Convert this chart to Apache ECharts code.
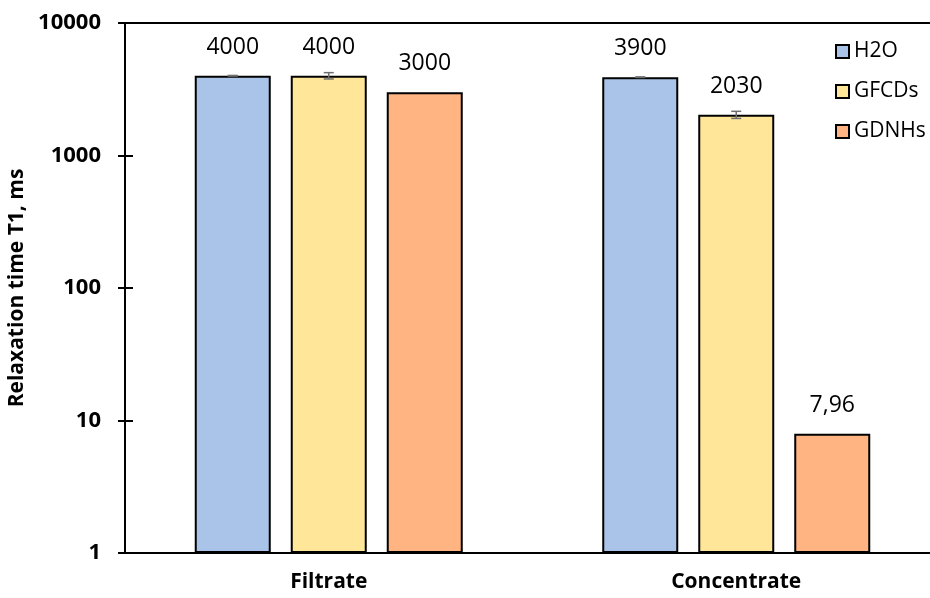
<!DOCTYPE html>
<html>
<head>
<meta charset="utf-8">
<script src="https://cdn.jsdelivr.net/npm/echarts@6/dist/echarts.min.js"></script>
<style>html,body{margin:0;padding:0;background:#fff}#c{width:930px;height:598px}</style>
</head>
<body>
<div id="c"></div>
<script>
const categories = ['Filtrate', 'Concentrate'];
const seriesNames = ['H2O', 'GFCDs', 'GDNHs'];
const h2o = [4000, 3900];
const gfcds = [4000, 2030];
const gdnhs = [3000, 7.96];
const h2oErr = [20, 20];
const gfcdsErr = [220, 125];
const gdnhsErr = [0, 0];
const yTicks = [1, 10, 100, 1000, 10000];

const colors = ['#A9C4E8', '#FFE699', '#FFB482'];
const values = [h2o, gfcds, gdnhs];
const errs = [h2oErr, gfcdsErr, gdnhsErr];
const BAR_W = 76, BAR_STEP = 96;
const FONT = 'Open Sans';

function fmt(v) { return String(v).replace('.', ','); }

const chart = echarts.init(document.getElementById('c'), null, {renderer: 'canvas'});

const series = [];
seriesNames.forEach((name, i) => {
  series.push({
    name: name,
    type: 'bar',
    data: values[i],
    barWidth: BAR_W,
    barGap: ((BAR_STEP - BAR_W) / BAR_W * 100).toFixed(2) + '%',
    itemStyle: {color: colors[i], borderColor: '#000', borderWidth: 2},
    label: {show: true, position: 'top', distance: 17, fontFamily: FONT, fontSize: 23, color: '#000',
      formatter: p => fmt(p.value)},
    z: 2
  });
});
seriesNames.forEach((name, i) => {
  series.push({
    type: 'custom',
    name: name + '_err',
    data: values[i].map((v, k) => [k, v - errs[i][k], v + errs[i][k], errs[i][k]]),
    renderItem: function (params, api) {
      if (!api.value(3)) return null;
      const k = api.value(0);
      const lo = api.coord([k, api.value(1)]);
      const hi = api.coord([k, api.value(2)]);
      const x = lo[0] + (i - 1) * BAR_STEP;
      const cap = 5;
      const st = {stroke: '#6f6f6f', lineWidth: 1.5};
      return {
        type: 'group',
        children: [
          {type: 'line', shape: {x1: x, y1: lo[1], x2: x, y2: hi[1]}, style: st},
          {type: 'line', shape: {x1: x - cap, y1: lo[1], x2: x + cap, y2: lo[1]}, style: st},
          {type: 'line', shape: {x1: x - cap, y1: hi[1], x2: x + cap, y2: hi[1]}, style: st}
        ]
      };
    },
    z: 5,
    silent: true
  });
});

chart.setOption({
  animation: false,
  backgroundColor: '#fff',
  grid: {left: 125, right: -10, top: 23, bottom: 45, containLabel: false, outerBoundsMode: 'none'},
  legend: {
    data: seriesNames,
    orient: 'vertical',
    left: 830, top: 36,
    itemWidth: 13, itemHeight: 13, itemGap: 19,
    icon: 'rect',
    textStyle: {fontFamily: FONT, fontSize: 21, color: '#000'}
  },
  xAxis: [{
    type: 'category',
    data: categories,
    axisLine: {lineStyle: {color: '#000', width: 2}},
    axisTick: {show: false},
    axisLabel: {fontFamily: FONT, fontSize: 21, fontWeight: 'bold', color: '#000', margin: 19}
  }, {
    type: 'category', position: 'top', data: categories,
    axisLine: {lineStyle: {color: '#000', width: 2}},
    axisTick: {show: false}, axisLabel: {show: false}
  }],
  yAxis: [{
    type: 'log', logBase: 10, min: 1, max: 10000,
    name: 'Relaxation time T1, ms',
    nameLocation: 'middle', nameRotate: 90, nameGap: 93,
    nameTextStyle: {fontFamily: FONT, fontSize: 21, fontWeight: 'bold', color: '#000'},
    axisLine: {show: true, lineStyle: {color: '#000', width: 2}},
    axisTick: {show: true, length: 7, lineStyle: {color: '#000', width: 2}},
    axisLabel: {fontFamily: FONT, fontSize: 22, fontWeight: 'bold', color: '#000', margin: 24,
      formatter: v => yTicks.includes(Math.round(v)) ? String(Math.round(v)) : ''},
    splitLine: {show: false}
  }, {
    type: 'log', logBase: 10, min: 1, max: 10000, position: 'left',
    axisLine: {show: false},
    axisTick: {show: true, inside: true, length: 8, lineStyle: {color: '#000', width: 2}},
    axisLabel: {show: false},
    splitLine: {show: false}
  }],
  series: series
});
</script>
</body>
</html>
